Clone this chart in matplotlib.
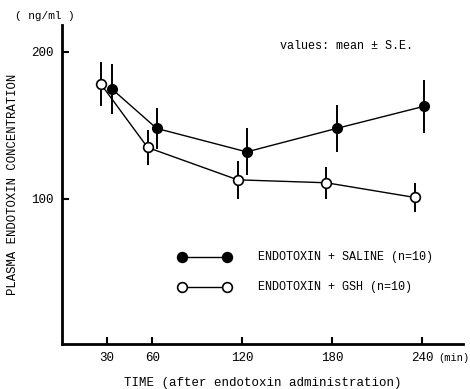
import matplotlib
matplotlib.use("Agg")
import matplotlib.pyplot as plt

plt.rcParams['font.family'] = ['Liberation Mono', 'DejaVu Sans Mono']

# values (ng/ml)
saline_t = [33, 63, 123, 183, 241]
saline_mean = [175, 148, 132, 148, 163]
saline_se = [17, 14, 16, 16, 18]

gsh_t = [26, 57, 117, 176, 235]
gsh_mean = [178, 135, 113, 111, 101]
gsh_se = [15, 12, 13, 11, 10]

xticks = [30, 60, 120, 180, 240]
yticks = [100, 200]

fig = plt.figure(figsize=(4.7, 3.89), dpi=100)
ax = fig.add_axes([0.132, 0.116, 0.853, 0.82])

ax.errorbar(saline_t, saline_mean, yerr=saline_se, fmt='o-', color='black',
            mfc='black', mec='black', ms=7, lw=1.0, elinewidth=1.4, capsize=0,
            zorder=3)
ax.errorbar(gsh_t, gsh_mean, yerr=gsh_se, fmt='o-', color='black',
            mfc='white', mec='black', mew=1.2, ms=7, lw=1.0, elinewidth=1.4,
            capsize=0, zorder=3)

ax.set_xlim(0, 267)
ax.set_ylim(1.4, 218.4)
ax.set_xticks(xticks)
ax.set_yticks(yticks)
ax.tick_params(direction='in', length=5, width=1.5, labelsize=9, pad=6)
for s in ['top', 'right']:
    ax.spines[s].set_visible(False)
ax.spines['left'].set_linewidth(2.0)
ax.spines['bottom'].set_linewidth(2.0)

ax.set_xlabel('TIME (after endotoxin administration)', fontsize=9, labelpad=9)
ax.set_ylabel('PLASMA ENDOTOXIN CONCENTRATION', fontsize=8.8, labelpad=9)

fig.text(0.032, 0.958, '( ng/ml )', fontsize=8, va='center')
ax.text(250.5, -6 / 72 * 100 / 319 - 0.002, '(min)',
        transform=ax.get_xaxis_transform(), fontsize=7.5, va='top', ha='left')
ax.text(0.875, 0.934, 'values: mean \u00b1 S.E.', transform=ax.transAxes,
        fontsize=8.5, ha='right', va='center')

# legend drawn by hand in the style of the original
leg = [(0.273, 'black', 'ENDOTOXIN + SALINE (n=10)'),
       (0.179, 'white', 'ENDOTOXIN + GSH (n=10)')]
for yy, fc, lab in leg:
    ax.plot([0.299, 0.411], [yy, yy], '-', color='black', lw=1.0,
            transform=ax.transAxes, marker='o', ms=7, mfc=fc, mec='black',
            mew=1.2, clip_on=False)
    ax.text(0.489, yy, lab, transform=ax.transAxes, fontsize=8.5, va='center')

fig.savefig('out.png', dpi=100)
